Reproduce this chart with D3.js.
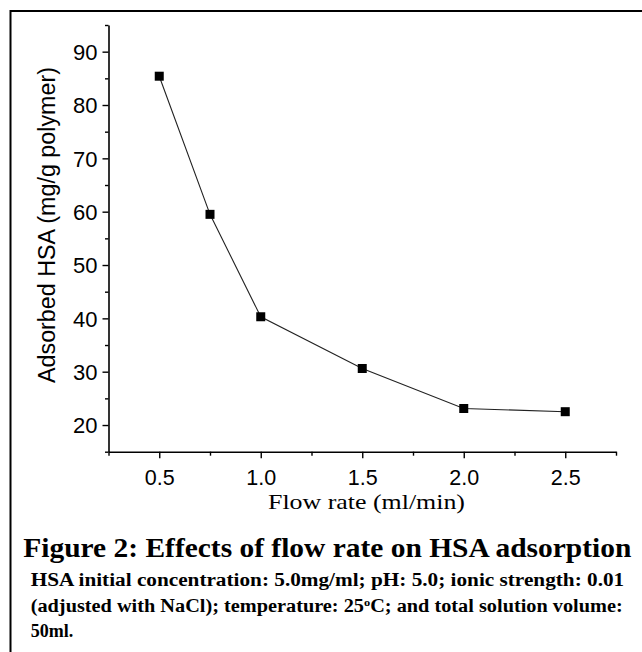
<!DOCTYPE html>
<html>
<head>
<meta charset="utf-8">
<script src="https://cdn.jsdelivr.net/npm/d3@7"></script>
<style>
  html, body { margin: 0; padding: 0; background: #fff; }
  svg { display: block; }
</style>
</head>
<body>
<svg id="chart" width="642" height="652"></svg>
<script>
// ---- data ----
const flowRates = [0.5, 0.75, 1.0, 1.5, 2.0, 2.5];
const adsorbedHSA = [85.4, 59.5, 40.3, 30.6, 23.1, 22.5];
const xMajorTicks = [0.5, 1.0, 1.5, 2.0, 2.5];
const xMinorTicks = [0.25, 0.75, 1.25, 1.75, 2.25, 2.75];
const yMajorTicks = [20, 30, 40, 50, 60, 70, 80, 90];
const yMinorTicks = [15, 25, 35, 45, 55, 65, 75, 85, 95];
const xTitle = "Flow rate (ml/min)";
const yTitle = "Adsorbed HSA (mg/g polymer)";
const captionTitle = "Figure 2: Effects of flow rate on HSA adsorption";
const captionLine1 = "HSA initial concentration: 5.0mg/ml; pH: 5.0; ionic strength: 0.01";
const captionLine3 = "50ml.";

const svg = d3.select("#chart");
const sans = "'Liberation Sans', Arial, sans-serif";
const serif = "'Liberation Serif', 'Times New Roman', serif";

// frame
svg.append("path")
  .attr("d", "M10.5,652 V11 H642")
  .attr("fill", "none").attr("stroke", "#000").attr("stroke-width", 2);

const x = d3.scaleLinear().domain([0.25, 2.75]).range([108.5, 616]);
const y = d3.scaleLinear().domain([15, 95]).range([451.7, 25]);

// minor ticks
const gx = svg.append("g").attr("transform", `translate(0,${y(15)})`);
gx.call(d3.axisBottom(x).tickValues(xMinorTicks).tickSize(4).tickSizeOuter(0).tickFormat(""));
gx.call(g => g.select(".domain").remove());
const gx2 = svg.append("g").attr("transform", `translate(0,${y(15)})`);
gx2.call(d3.axisBottom(x).tickValues(xMajorTicks).tickSize(6.5).tickSizeOuter(0)
  .tickFormat(d3.format(".1f")));
gx2.selectAll("text")
  .attr("y", 33.5).attr("dy", null)
  .attr("font-family", sans).attr("font-size", 21.5).attr("fill", "#000");

const gy = svg.append("g").attr("transform", `translate(${x(0.25)},0)`);
gy.call(d3.axisLeft(y).tickValues(yMinorTicks).tickSize(3.5).tickSizeOuter(0).tickFormat(""));
gy.call(g => g.select(".domain").remove());
const gy2 = svg.append("g").attr("transform", `translate(${x(0.25)},0)`);
gy2.call(d3.axisLeft(y).tickValues(yMajorTicks).tickSize(6).tickSizeOuter(0).tickPadding(5)
  .tickFormat(d3.format("d")));
gy2.selectAll("text")
  .attr("dy", "0.36em")
  .attr("font-family", sans).attr("font-size", 22).attr("fill", "#000");

svg.selectAll(".domain").attr("stroke", "#000").attr("stroke-width", 1.6);
svg.selectAll(".tick line").attr("stroke", "#000").attr("stroke-width", 1.4);

// line
const pts = flowRates.map((f, i) => [f, adsorbedHSA[i]]);
svg.append("path")
  .datum(pts)
  .attr("fill", "none").attr("stroke", "#222").attr("stroke-width", 1.1)
  .attr("d", d3.line().x(d => x(d[0])).y(d => y(d[1])));

svg.selectAll("rect.pt").data(pts).join("rect")
  .attr("class", "pt")
  .attr("x", d => x(d[0]) - 4.5).attr("y", d => y(d[1]) - 4.5)
  .attr("width", 9).attr("height", 9).attr("fill", "#000");

// axis titles
svg.append("text")
  .attr("transform", `translate(55,225) rotate(-90)`)
  .attr("text-anchor", "middle")
  .attr("font-family", sans).attr("font-size", 23)
  .attr("textLength", 316).attr("lengthAdjust", "spacingAndGlyphs")
  .text(yTitle);

svg.append("text")
  .attr("x", 366.5).attr("y", 509)
  .attr("text-anchor", "middle")
  .attr("font-family", serif).attr("font-size", 21)
  .attr("textLength", 197).attr("lengthAdjust", "spacingAndGlyphs")
  .text(xTitle);

// caption
svg.append("text")
  .attr("x", 23.3).attr("y", 556.5)
  .attr("font-family", serif).attr("font-weight", "bold").attr("font-size", 27)
  .attr("textLength", 608).attr("lengthAdjust", "spacingAndGlyphs")
  .text(captionTitle);

svg.append("text")
  .attr("x", 30.7).attr("y", 586)
  .attr("font-family", serif).attr("font-weight", "bold").attr("font-size", 18)
  .attr("textLength", 593.5).attr("lengthAdjust", "spacingAndGlyphs")
  .text(captionLine1);

const l2 = svg.append("text")
  .attr("x", 30.7).attr("y", 611.5)
  .attr("font-family", serif).attr("font-weight", "bold").attr("font-size", 18)
  .attr("textLength", 592).attr("lengthAdjust", "spacingAndGlyphs");
l2.append("tspan").text("(adjusted with NaCl); temperature: 25");
l2.append("tspan").attr("dy", -6).attr("font-size", 11).text("o");
l2.append("tspan").attr("dy", 6).text("C; and total solution volume:");

svg.append("text")
  .attr("x", 30.7).attr("y", 636.5)
  .attr("font-family", serif).attr("font-weight", "bold").attr("font-size", 18)
  .text(captionLine3);
</script>
</body>
</html>
